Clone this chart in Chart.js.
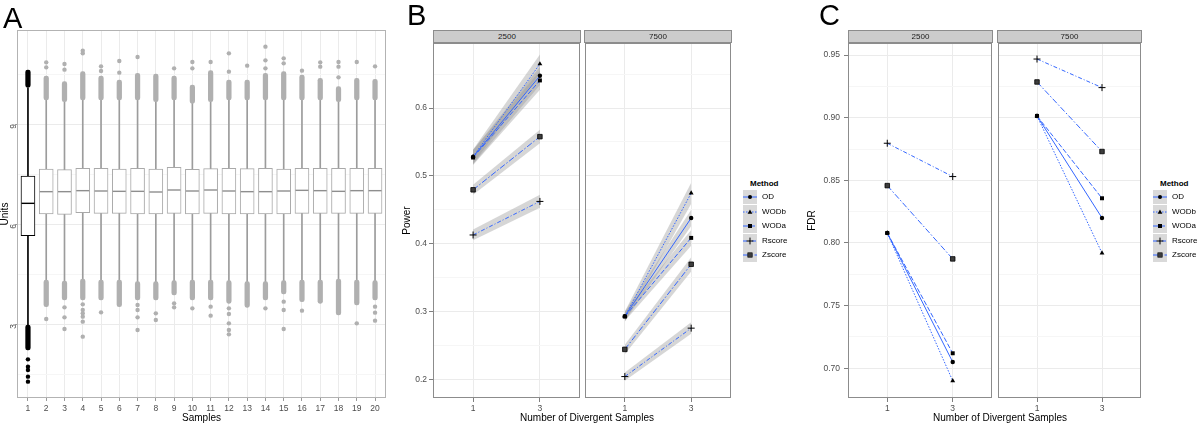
<!DOCTYPE html>
<html>
<head>
<meta charset="utf-8">
<script src="https://cdn.jsdelivr.net/npm/chart.js@4.4.1/dist/chart.umd.min.js"></script>
<style>
  html, body { margin:0; padding:0; background:#ffffff; }
  #fig { position:relative; width:1200px; height:424px; overflow:hidden; background:#fff;
         font-family:"Liberation Sans", Arial, Helvetica, sans-serif; }
  #fig canvas { position:absolute; top:0; }
  .letter { position:absolute; font-size:29px; line-height:29px; color:#000; }
  .strip { position:absolute; top:30px; height:13px; box-sizing:border-box; background:#cccccc;
           border:1px solid #8c8c8c; font-size:8px; line-height:11px; text-align:center; color:#1a1a1a; }
  .xtitle { position:absolute; top:413px; font-size:10px; line-height:10px; color:#000;
            transform:translateX(-50%); white-space:nowrap; }
  .lgttl { position:absolute; top:179px; font-size:8px; font-weight:bold; line-height:10px; white-space:nowrap; color:#000; }
  .lgkey { position:absolute; width:14px; height:14px; }
  .lglab { position:absolute; font-size:8px; line-height:14.5px; white-space:nowrap; color:#000; }
</style>
</head>
<body>
<div id="fig"></div>
<script>
// ================= DATA =================
// Panel A : box plots of Units per sample
const sampleLabels = ['1','2','3','4','5','6','7','8','9','10','11','12','13','14','15','16','17','18','19','20'];
const highlightedSample = '1';
const boxQ1     = [5.65, 6.30, 6.29, 6.34, 6.32, 6.32, 6.30, 6.30, 6.32, 6.30, 6.32, 6.30, 6.30, 6.30, 6.30, 6.32, 6.32, 6.32, 6.32, 6.32];
const boxMedian = [6.62, 6.97, 6.97, 7.00, 6.99, 6.98, 6.98, 6.96, 7.02, 6.99, 7.02, 6.99, 6.97, 6.97, 6.99, 7.01, 7.00, 6.98, 7.00, 7.00];
const boxQ3     = [7.44, 7.65, 7.63, 7.67, 7.67, 7.65, 7.67, 7.65, 7.70, 7.64, 7.66, 7.67, 7.66, 7.67, 7.65, 7.67, 7.67, 7.67, 7.67, 7.67];
const whiskerLow  = [2.97, 4.32, 4.29, 4.35, 4.32, 4.32, 4.27, 4.27, 4.30, 4.32, 4.32, 4.30, 4.27, 4.27, 4.30, 4.32, 4.32, 4.35, 4.32, 4.30];
const whiskerHigh = [10.08, 9.72, 9.67, 9.72, 9.72, 9.72, 9.72, 9.67, 9.72, 9.62, 9.67, 9.72, 9.72, 9.72, 9.72, 9.72, 9.72, 9.67, 9.72, 9.72];
// dense runs of overlapping outliers [low, high]
const upperOutlierRun = [[10.10,10.62],[9.72,10.44],[9.67,10.27],[9.72,10.57],[9.72,10.44],[9.72,10.32],[9.72,10.52],[9.67,10.50],[9.72,10.44],[9.62,10.17],
                         [9.67,10.60],[9.72,10.32],[9.72,10.32],[9.72,10.52],[9.72,10.57],[9.72,10.47],[9.72,10.37],[9.67,10.12],[9.72,10.37],[9.72,10.34]];
const lowerOutlierRun = [[2.22,2.97],[3.52,4.32],[3.72,4.29],[3.72,4.35],[3.72,4.32],[3.52,4.32],[3.72,4.27],[3.72,4.27],[3.87,4.30],[3.72,4.32],
                         [3.72,4.32],[3.62,4.30],[3.50,4.27],[3.72,4.27],[3.90,4.30],[3.67,4.32],[3.62,4.32],[3.27,4.35],[3.57,4.32],[3.72,4.30]];
// isolated outliers [sample, value]
const isolatedOutliers = [
  [1,1.94],[1,1.72],[1,1.62],[1,1.42],[1,1.27],
  [2,10.85],[2,10.70],[2,3.15],
  [3,10.80],[3,10.63],[3,3.50],[3,3.20],[3,2.85],
  [4,11.20],[4,11.12],[4,3.59],[4,3.42],[4,3.32],[4,3.22],[4,3.07],[4,2.62],
  [5,10.73],[5,10.59],[5,3.35],
  [6,10.89],[6,10.54],
  [7,11.01],[7,3.57],[7,3.42],[7,3.20],[7,2.82],
  [8,3.32],[8,3.12],
  [9,10.67],[9,3.62],[9,3.50],
  [10,10.86],[10,10.67],[10,3.47],
  [11,10.86],[11,3.52],[11,3.25],
  [12,11.12],[12,10.57],[12,3.47],[12,3.30],[12,3.02],[12,2.82],[12,2.69],
  [13,10.75],
  [14,11.32],[14,10.91],[14,10.67],[14,3.47],
  [15,10.97],[15,10.82],[15,3.67],[15,3.42],[15,2.85],
  [16,10.60],[16,3.40],
  [17,10.85],[17,10.72],
  [18,10.86],[18,10.72],[18,10.40],
  [19,10.86],[19,3.02],
  [20,10.73],[20,3.52],[20,3.34],[20,3.10]
];
const unitsMajorTicks = [3, 6, 9];
const unitsMajorLabels = ['3', '6', '9'];
const unitsMinorTicks = [1.5, 4.5, 7.5, 10.5];

// Panels B and C
const methods = ['OD', 'WODb', 'WODa', 'Rscore', 'Zscore'];
const divergentLabels = ['1', '3'];
const facetLabels = ['2500', '7500'];

// Power (panel B), [at 1, at 3] per method
const power2500   = [[0.528,0.6475],[0.5285,0.665],[0.527,0.6407],[0.4128,0.4623],[0.4794,0.5578]];
const power2500Lo = [[0.517,0.634],[0.518,0.651],[0.516,0.627],[0.405,0.453],[0.472,0.548]];
const power2500Hi = [[0.538,0.661],[0.539,0.679],[0.538,0.655],[0.421,0.472],[0.487,0.568]];
const power7500   = [[0.2931,0.4378],[0.2925,0.4746],[0.2925,0.4085],[0.2040,0.2754],[0.2441,0.3696]];
const power7500Lo = [[0.286,0.426],[0.285,0.459],[0.286,0.397],[0.198,0.267],[0.237,0.359]];
const power7500Hi = [[0.300,0.450],[0.300,0.490],[0.299,0.420],[0.210,0.284],[0.251,0.380]];
const powerMajorTicks = [0.2, 0.3, 0.4, 0.5, 0.6];
const powerMajorLabels = ['0.2', '0.3', '0.4', '0.5', '0.6'];
const powerMinorTicks = [0.25, 0.35, 0.45, 0.55, 0.65];

// FDR (panel C)
const fdr2500 = [[0.808,0.705],[0.808,0.690],[0.808,0.712],[0.8796,0.853],[0.8458,0.7873]];
const fdr7500 = [[0.9014,0.820],[0.9014,0.792],[0.9014,0.8357],[0.9468,0.924],[0.9285,0.873]];
const fdrMajorTicks = [0.70, 0.75, 0.80, 0.85, 0.90, 0.95];
const fdrMajorLabels = ['0.70', '0.75', '0.80', '0.85', '0.90', '0.95'];
const fdrMinorTicks = [0.725, 0.775, 0.825, 0.875, 0.925];

// ================= STYLES =================
const FONT = '"Liberation Sans", Arial, Helvetica, sans-serif';
Chart.defaults.font.family = FONT;
Chart.defaults.color = '#4d4d4d';
const tickFont = { size: 8.5 };
const tickColor = '#4d4d4d';
const gridMajor = '#ebebeb', gridMinor = '#f6f6f6';
const lineBlue = '#3366FF';
const ribbonFill = 'rgba(153,153,153,0.4)';
const methodDash = [[], [1.5, 1.5], [5, 2], [4, 2, 1, 2], [6, 2, 1.5, 2]];
const methodPoint = ['circle', 'triangle', 'rect', 'cross', 'rect'];
const methodRadius = [2.2, 2.8, 2.8, 3.5, 3.2];
const methodPointFill = ['#000', '#000', '#000', '#000', '#3d3d3d'];
const methodPointBorder = [0, 0, 0, 1, 0.8];
const legendMarkers = [
  '<circle cx="7" cy="7" r="2" fill="#000"/>',
  '<polygon points="7,4.6 9.4,8.8 4.6,8.8" fill="#000"/>',
  '<rect x="5" y="5" width="4" height="4" fill="#000"/>',
  '<path d="M7 3.6V10.4M3.6 7H10.4" stroke="#000" stroke-width="1"/>',
  '<rect x="4.8" y="4.8" width="4.4" height="4.4" fill="#3d3d3d" stroke="#000" stroke-width="0.6"/>'
];

const fig = document.getElementById('fig');
function makeCanvas(left, width) {
  const c = document.createElement('canvas');
  c.width = width; c.height = 424;
  c.style.left = left + 'px'; c.style.width = width + 'px'; c.style.height = '424px';
  fig.appendChild(c);
  return c;
}
function addDiv(cls, text, styles) {
  const d = document.createElement('div');
  d.className = cls; d.textContent = text;
  Object.assign(d.style, styles);
  fig.appendChild(d);
  return d;
}
const near = (a, b) => Math.abs(a - b) < 1e-9;
const isIn = (v, arr) => arr.some(m => near(m, v));
function framePlugin(color) {
  return { id: 'frame', afterDraw(chart) {
    const { ctx, chartArea: a } = chart;
    ctx.save(); ctx.strokeStyle = color; ctx.lineWidth = 1;
    ctx.strokeRect(Math.round(a.left) + 0.5, Math.round(a.top) + 0.5, Math.round(a.right - a.left) - 1, Math.round(a.bottom - a.top) - 1);
    ctx.restore();
  } };
}
const baseOpts = { responsive: false, animation: false, events: [],
  plugins: { legend: { display: false }, tooltip: { enabled: false } } };

// ================= PANEL A =================
const isHi = i => sampleLabels[i] === highlightedSample;
const hiCol = '#000000';
const outCol = '#b0b0b0';
new Chart(makeCanvas(0, 400), {
  type: 'bar',
  data: { datasets: [
    { type: 'bar', data: sampleLabels.map((s, i) => ({ x: i + 1, y: [whiskerLow[i], whiskerHigh[i]] })),
      backgroundColor: c => isHi(c.dataIndex) ? hiCol : '#9c9c9c', borderWidth: 0, barThickness: 1, grouped: false, order: 6 },
    { type: 'bar', data: sampleLabels.map((s, i) => ({ x: i + 1, y: [boxQ1[i], boxQ3[i]] })),
      backgroundColor: '#ffffff', borderColor: c => isHi(c.dataIndex) ? hiCol : '#a9a9a9', borderWidth: 1,
      borderSkipped: false, barThickness: 14, grouped: false, order: 5 },
    { type: 'scatter', data: sampleLabels.map((s, i) => ({ x: i + 1, y: boxMedian[i] })),
      pointStyle: 'line', pointRadius: 6.5, pointBorderWidth: 1.4,
      pointBorderColor: c => isHi(c.dataIndex) ? hiCol : '#8e8e8e', order: 4 },
    { type: 'bar', data: sampleLabels.map((s, i) => ({ x: i + 1, y: upperOutlierRun[i] })),
      backgroundColor: c => isHi(c.dataIndex) ? hiCol : outCol, borderWidth: 0, barThickness: 4.6,
      borderRadius: 2.3, borderSkipped: false, grouped: false, order: 3 },
    { type: 'bar', data: sampleLabels.map((s, i) => ({ x: i + 1, y: lowerOutlierRun[i] })),
      backgroundColor: c => isHi(c.dataIndex) ? hiCol : outCol, borderWidth: 0, barThickness: 4.6,
      borderRadius: 2.3, borderSkipped: false, grouped: false, order: 2 },
    { type: 'scatter', data: isolatedOutliers.map(([s, v]) => ({ x: s, y: v })),
      pointRadius: 2.2, pointBorderWidth: 0,
      pointBackgroundColor: c => (c.raw && String(c.raw.x) === highlightedSample) ? hiCol : outCol, order: 1 }
  ] },
  options: Object.assign({}, baseOpts, {
    layout: { padding: { top: 30, right: 14, left: 0, bottom: 0 } },
    scales: {
      x: { type: 'linear', min: 0.4, max: 20.6, offset: false,
        afterBuildTicks: s => { s.ticks = sampleLabels.map((l, i) => ({ value: i + 1 })); },
        ticks: { callback: (v, i) => sampleLabels[i], autoSkip: false, maxRotation: 0, minRotation: 0,
                 padding: 3, font: tickFont, color: tickColor },
        grid: { color: gridMajor, tickColor: '#9a9a9a', tickLength: 3, offset: false },
        border: { display: false },
        title: { display: true, text: 'Samples', color: '#000', font: { size: 10, lineHeight: 1 }, padding: { top: 0, bottom: 1 } },
        afterFit: s => { s.height = 26; } },
      y: { type: 'linear', min: 0.78, max: 11.82, beginAtZero: false,
        afterBuildTicks: s => { s.ticks = unitsMajorTicks.concat(unitsMinorTicks).sort((a, b) => a - b).map(v => ({ value: v })); },
        ticks: { callback: v => { const k = unitsMajorTicks.findIndex(m => near(m, v)); return k >= 0 ? unitsMajorLabels[k] : ''; },
                 minRotation: 90, maxRotation: 90, padding: 1, font: tickFont, color: tickColor, autoSkip: false },
        grid: { color: c => isIn(c.tick.value, unitsMajorTicks) ? gridMajor : gridMinor,
                tickColor: c => isIn(c.tick.value, unitsMajorTicks) ? '#9a9a9a' : 'rgba(0,0,0,0)', tickLength: 2 },
        border: { display: false },
        title: { display: true, text: 'Units', color: '#000', font: { size: 10, lineHeight: 1 }, padding: { top: 0, bottom: 0 } },
        afterFit: s => { s.width = 17; } }
    }
  }),
  plugins: [framePlugin('#b3b3b3')]
});

// ================= FACET CHARTS (B, C) =================
function facetChart(cfg) {
  const toPts = pair => pair.map((v, i) => ({ x: i + 1, y: v }));
  const ds = [];
  methods.forEach((m, k) => {
    if (cfg.lo) {
      ds.push({ type: 'line', data: toPts(cfg.lo[k]), borderWidth: 0, borderColor: 'rgba(0,0,0,0)', pointRadius: 0, fill: false, order: 2 });
      ds.push({ type: 'line', data: toPts(cfg.hi[k]), borderWidth: 0, borderColor: 'rgba(0,0,0,0)', pointRadius: 0, fill: '-1', backgroundColor: ribbonFill, order: 2 });
    }
    ds.push({ type: 'line', label: m, data: toPts(cfg.values[k]), borderColor: lineBlue, borderWidth: 1, borderDash: methodDash[k],
      fill: false, tension: 0, pointStyle: methodPoint[k], pointRadius: methodRadius[k],
      pointBackgroundColor: methodPointFill[k], pointBorderColor: '#000', pointBorderWidth: methodPointBorder[k], order: 1 });
  });
  new Chart(makeCanvas(cfg.left, cfg.width), {
    type: 'line',
    data: { datasets: ds },
    options: Object.assign({}, baseOpts, {
      layout: { padding: { top: 43, right: cfg.padR, left: cfg.padL, bottom: 0 } },
      scales: {
        x: { type: 'linear', min: 0.4, max: 2.6, offset: false,
          afterBuildTicks: s => { s.ticks = divergentLabels.map((l, i) => ({ value: i + 1 })); },
          ticks: { callback: (v, i) => divergentLabels[i], autoSkip: false, maxRotation: 0, minRotation: 0,
                   padding: 2, font: tickFont, color: tickColor },
          grid: { color: gridMajor, tickColor: '#7f7f7f', tickLength: 4 },
          border: { display: false },
          afterFit: s => { s.height = 26; } },
        y: { type: 'linear', min: cfg.yMin, max: cfg.yMax, beginAtZero: false,
          afterBuildTicks: s => { s.ticks = cfg.majors.concat(cfg.minors).sort((a, b) => a - b).map(v => ({ value: v })); },
          ticks: { display: cfg.showY, autoSkip: false, padding: cfg.tickPad, font: tickFont, color: tickColor,
                   callback: v => { const k = cfg.majors.findIndex(m => near(m, v)); return k >= 0 ? cfg.majorLabels[k] : ''; } },
          grid: { color: c => isIn(c.tick.value, cfg.majors) ? gridMajor : gridMinor, drawTicks: cfg.showY,
                  tickColor: c => isIn(c.tick.value, cfg.majors) ? '#7f7f7f' : 'rgba(0,0,0,0)', tickLength: 4 },
          border: { display: false },
          title: { display: !!cfg.yTitle, text: cfg.yTitle || '', color: '#000', font: { size: 10, lineHeight: 1 },
                   padding: { top: cfg.titlePad || 0, bottom: 0 } },
          afterFit: s => { s.width = cfg.yWidth; } }
      }
    }),
    plugins: [framePlugin('#8c8c8c')]
  });
}

// Panel B
facetChart({ left: 390, width: 195, padL: 0, padR: 4, yWidth: 43, showY: true, yTitle: 'Power', titlePad: 12.5, tickPad: 2,
  yMin: 0.1724, yMax: 0.6959, majors: powerMajorTicks, majorLabels: powerMajorLabels, minors: powerMinorTicks,
  values: power2500, lo: power2500Lo, hi: power2500Hi });
facetChart({ left: 580, width: 156, padL: 4, padR: 4, yWidth: 0, showY: false, tickPad: 0,
  yMin: 0.1724, yMax: 0.6959, majors: powerMajorTicks, majorLabels: powerMajorLabels, minors: powerMinorTicks,
  values: power7500, lo: power7500Lo, hi: power7500Hi });
// Panel C
facetChart({ left: 790, width: 207, padL: 0, padR: 4, yWidth: 58, showY: true, yTitle: 'FDR', titlePad: 17.7, tickPad: 4,
  yMin: 0.6763, yMax: 0.9596, majors: fdrMajorTicks, majorLabels: fdrMajorLabels, minors: fdrMinorTicks,
  values: fdr2500 });
facetChart({ left: 993, width: 153, padL: 4, padR: 4, yWidth: 0, showY: false, tickPad: 0,
  yMin: 0.6763, yMax: 0.9596, majors: fdrMajorTicks, majorLabels: fdrMajorLabels, minors: fdrMinorTicks,
  values: fdr7500 });

// ================= TEXT / DECORATIONS =================
addDiv('letter', 'A', { left: '3px', top: '4px' });
addDiv('letter', 'B', { left: '407px', top: '1px' });
addDiv('letter', 'C', { left: '819px', top: '1px' });

addDiv('strip', facetLabels[0], { left: '433px', width: '148px' });
addDiv('strip', facetLabels[1], { left: '584px', width: '148px' });
addDiv('strip', facetLabels[0], { left: '848px', width: '145px' });
addDiv('strip', facetLabels[1], { left: '997px', width: '145px' });

addDiv('xtitle', 'Number of Divergent Samples', { left: '587px' });
addDiv('xtitle', 'Number of Divergent Samples', { left: '1000px' });

function legend(keyLeft, labelLeft, titleLeft) {
  addDiv('lgttl', 'Method', { left: titleLeft + 'px' });
  methods.forEach((m, k) => {
    const top = 190 + k * 14.5;
    const key = document.createElement('div');
    key.className = 'lgkey';
    key.style.left = keyLeft + 'px'; key.style.top = top + 'px';
    const dash = methodDash[k].length ? ' stroke-dasharray="' + methodDash[k].join(',') + '"' : '';
    key.innerHTML = '<svg width="14" height="14" xmlns="http://www.w3.org/2000/svg">' +
      '<rect width="14" height="14" fill="#d9d9d9"/>' +
      '<line x1="0" y1="7" x2="14" y2="7" stroke="' + lineBlue + '" stroke-width="1"' + dash + '/>' +
      legendMarkers[k] + '</svg>';
    fig.appendChild(key);
    addDiv('lglab', m, { left: labelLeft + 'px', top: top + 'px' });
  });
}
legend(743, 762, 750);
legend(1153, 1172, 1160);
</script>
</body>
</html>
